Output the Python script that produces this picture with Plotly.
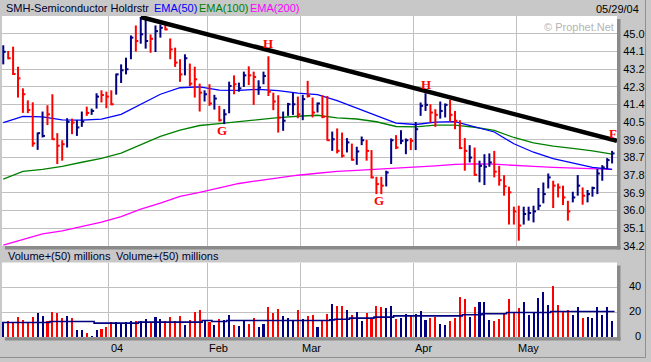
import pandas as pd
import plotly.graph_objects as go

# ---------------- data ----------------
holidays = ["2003-12-25", "2004-01-01", "2004-01-19", "2004-02-16", "2004-04-09"]
dates = [d for d in pd.bdate_range("2003-12-01", "2004-05-28")
         if d.strftime("%Y-%m-%d") not in holidays]

high = [44.41, 44.12, 44.34, 43.32, 42.22, 41.61, 41.51, 39.97, 41.04, 41.36,
        41.92, 39.94, 39.58, 40.70, 40.68, 40.60, 41.04, 41.29, 41.19, 41.97,
        42.12, 42.05, 42.12, 42.97, 43.44, 43.78, 44.91, 45.42, 45.85, 45.73,
        44.96, 45.42, 45.47, 45.47, 44.76, 44.29, 43.70, 43.95, 43.48, 43.32,
        42.46, 42.12, 42.43, 41.89, 41.33, 41.16, 42.56, 42.88, 42.51, 43.07,
        43.34, 43.07, 42.63, 43.07, 43.85, 42.00, 41.87, 41.04, 41.48, 42.00,
        41.80, 41.89, 42.60, 41.75, 41.50, 41.87, 41.83, 40.02, 40.18, 39.97,
        39.69, 39.41, 39.25, 39.77, 39.60, 39.08, 37.72, 37.72, 38.03, 39.67,
        39.84, 40.09, 39.67, 39.69, 40.51, 41.50, 41.97, 41.41, 41.16, 41.55,
        41.45, 41.63, 41.07, 40.60, 39.69, 39.33, 39.21, 38.54, 38.87, 38.91,
        39.04, 38.28, 37.80, 37.22, 36.20, 36.25, 36.20, 36.20, 36.25, 37.15,
        37.43, 37.89, 37.52, 37.38, 37.27, 36.50, 36.96, 37.81, 37.18, 37.05,
        37.22, 38.11, 38.31, 38.67, 39.04]
low = [43.44, 43.70, 42.90, 41.75, 40.97, 40.96, 39.25, 39.09, 39.72, 40.35,
       39.60, 38.37, 38.54, 39.21, 39.89, 39.80, 40.26, 40.82, 40.87, 41.19,
       41.50, 41.21, 41.36, 41.90, 42.49, 42.93, 43.70, 44.09, 44.49, 44.24,
       44.03, 44.07, 44.80, 45.17, 43.70, 43.31, 42.55, 42.88, 42.33, 41.75,
       41.04, 41.55, 41.33, 41.14, 40.53, 40.40, 40.95, 41.92, 42.05, 42.29,
       42.39, 41.38, 41.89, 42.43, 41.83, 41.11, 39.97, 40.06, 40.82, 40.87,
       40.70, 40.60, 41.75, 40.74, 40.99, 40.70, 39.55, 39.04, 38.91, 38.70,
       38.96, 38.54, 38.33, 39.33, 38.54, 37.64, 36.84, 36.84, 37.23, 38.37,
       39.13, 39.38, 38.87, 39.08, 39.08, 40.82, 41.07, 40.48, 40.26, 40.68,
       40.74, 40.53, 40.14, 39.13, 38.03, 38.45, 37.77, 37.44, 37.30, 38.23,
       37.69, 37.27, 36.76, 35.29, 35.29, 34.47, 35.29, 35.49, 35.40, 36.03,
       36.37, 37.13, 36.13, 36.67, 36.28, 35.49, 36.42, 36.76, 36.30, 36.42,
       36.71, 36.84, 37.52, 38.11, 38.40]
close = [44.08, 43.75, 42.95, 42.73, 41.92, 41.12, 39.42, 39.94, 39.80, 40.90,
         39.63, 39.30, 39.38, 40.51, 40.48, 40.23, 40.53, 40.97, 41.07, 41.80,
         41.88, 41.80, 41.41, 42.93, 43.14, 43.19, 44.80, 44.63, 44.97, 44.63,
         44.74, 45.13, 45.30, 45.22, 44.20, 43.53, 42.93, 43.75, 42.46, 42.68,
         42.00, 41.92, 41.45, 41.70, 40.60, 40.90, 42.34, 42.43, 42.22, 42.88,
         42.88, 42.80, 42.26, 42.85, 42.05, 41.55, 40.73, 40.57, 41.41, 41.41,
         40.90, 41.67, 41.83, 40.99, 41.45, 40.77, 39.58, 39.63, 39.04, 38.79,
         39.47, 38.59, 39.01, 39.58, 39.04, 37.69, 37.35, 37.27, 37.94, 39.58,
         39.21, 39.55, 39.58, 39.55, 40.14, 41.33, 41.38, 40.99, 40.87, 41.07,
         41.38, 40.87, 40.57, 39.18, 39.04, 38.70, 37.82, 38.28, 38.23, 38.45,
         37.98, 37.55, 37.24, 36.93, 35.96, 35.24, 35.83, 35.88, 35.96, 36.25,
         36.84, 37.69, 37.27, 37.18, 36.67, 35.96, 36.67, 37.27, 36.76, 36.84,
         37.15, 37.89, 38.20, 38.57, 38.91]
# n = up (navy), r = down (red)
bar_dir = list("nrrrrrrnnr" "rrrnrnnrnn" "rrrnnnnrnn" "rnnrrrrnrr" "rnrnrnnrnn"
               "rrnnrrrnnn" "rnrrnrrnrr" "nrnnrrrrnn" "rnnrnnnrrn" "nrrrrnrnnn"
               "rrrrrrnnnn" "nnrrrrnnrn" "nnnnn")
volume = [11.7, 12.5, 11.7, 16.5, 13.8, 11.2, 16.5, 19.7, 17.3, 12.5,
          20.5, 19.7, 15.7, 17.0, 15.7, 5.8, 5.3, 3.2, 0.8, 5.3,
          6.4, 7.7, 11.7, 11.7, 10.7, 11.7, 13.0, 13.0, 12.5, 14.6,
          12.0, 16.5, 14.9, 12.5, 16.5, 13.0, 17.0, 9.9, 13.8, 20.5,
          21.8, 13.8, 11.7, 9.9, 14.6, 13.8, 17.9, 9.9, 8.5, 13.8,
          10.7, 15.7, 7.7, 10.7, 24.5, 19.7, 22.6, 17.0, 15.2, 12.5,
          21.8, 14.6, 17.0, 17.9, 7.7, 13.8, 18.7, 26.6, 25.0, 25.0,
          21.8, 17.9, 20.3, 13.0, 19.4, 15.2, 25.0, 24.2, 23.2, 25.0,
          14.6, 15.2, 18.7, 17.9, 18.7, 21.0, 13.8, 15.2, 16.5, 10.7,
          9.9, 13.0, 15.2, 32.5, 30.6, 16.5, 24.2, 28.0, 28.0, 13.8,
          12.5, 14.6, 19.2, 30.6, 19.2, 23.7, 28.0, 17.9, 19.2, 31.1,
          35.9, 25.8, 40.8, 25.8, 20.5, 21.8, 17.9, 24.0, 15.2, 16.5,
          15.2, 24.0, 17.9, 24.0, 12.5]
# moving-average lines read every 4th bar
ema_idx = list(range(0, 125, 4))
ema50 = [40.48, 40.79, 40.77, 40.62, 40.60, 40.65, 40.90, 41.41, 41.92, 42.25,
         42.29, 42.13, 42.12, 42.17, 42.10, 41.98, 41.90, 41.60, 41.22, 40.84,
         40.45, 40.38, 40.50, 40.53, 40.26, 40.00, 39.40, 38.97, 38.65, 38.43,
         38.20, 38.10]
ema100 = [37.60, 38.00, 38.10, 38.25, 38.46, 38.66, 38.92, 39.33, 39.78, 40.10,
          40.33, 40.43, 40.53, 40.65, 40.73, 40.80, 40.85, 40.72, 40.66, 40.52,
          40.28, 40.26, 40.35, 40.35, 40.24, 40.08, 39.72, 39.45, 39.28, 39.17,
          39.04, 38.87]
ema200 = [34.25, 34.55, 34.82, 34.97, 35.18, 35.42, 35.70, 36.07, 36.38, 36.72,
          36.93, 37.17, 37.38, 37.53, 37.68, 37.80, 37.90, 38.00, 38.05, 38.10,
          38.15, 38.20, 38.28, 38.35, 38.38, 38.36, 38.32, 38.25, 38.20, 38.16,
          38.12, 38.10]
# volume average (step line): segment start bar and value
vavg_start = [-0.5, 9.5, 18.5, 27.5, 40.5, 42.5, 45.5, 66.5, 67.5, 70.5,
              75.5, 79.5, 93.5, 97.5, 102.5, 111.5, 124.5]
vavg_value = [11.7, 12.5, 11.2, 12.0, 13.3, 12.5, 13.3, 13.8, 14.3, 15.2,
              16.0, 17.0, 17.9, 18.7, 19.7, 20.5, 20.5]
# trend line and pattern letters
trend_idx = [28, 125.0]
trend_price = [45.85, 39.55]
pattern_text = ["H", "G", "H", "G", "F"]
pattern_idx = [53.9, 44.5, 86.1, 76.6, 124.2]
pattern_price = [44.51, 40.07, 42.43, 36.54, 39.94]

price_ticks = ["34.2", "35.1", "36.0", "36.9", "37.8", "38.7", "39.6",
               "40.5", "41.4", "42.3", "43.2", "44.1", "45.0", "45.9"]
vol_ticks = ["0", "20", "40", "60"]
month_labels = ["04", "Feb", "Mar", "Apr", "May"]

# ---------------- layout helpers ----------------
W, H = 651, 362
LM, RM, TM, BM = 2, 34, 16, 25
PW, PH = W - LM - RM, H - TM - BM


def px(x):
    return (x - LM) / PW


def py(y):
    return (H - BM - y) / PH


RED, NAVY = "#ff0000", "#000080"
GRID = "#c0c0c0"
BG = "#c8c8c8"
FONT = "Liberation Sans"

n = len(close)
idx = list(range(n))
month_start = [i for i in range(1, n) if dates[i].month != dates[i - 1].month]
grid_x = [i - 0.5 for i in month_start]

fig = go.Figure()


def bars(code, color):
    xs, ys = [], []
    for i in idx:
        if bar_dir[i] != code:
            continue
        xs += [i, i, None, i, i + 0.5, None]
        ys += [low[i], high[i], None, close[i], close[i], None]
    fig.add_trace(go.Scatter(x=xs, y=ys, mode="lines",
                             line=dict(color=color, width=2),
                             hoverinfo="skip", showlegend=False))


fig.add_trace(go.Scatter(x=ema_idx, y=ema200, mode="lines",
                         line=dict(color="#ff00ff", width=1.3), showlegend=False))
fig.add_trace(go.Scatter(x=ema_idx, y=ema100, mode="lines",
                         line=dict(color="#008000", width=1.3), showlegend=False))
fig.add_trace(go.Scatter(x=ema_idx, y=ema50, mode="lines",
                         line=dict(color="#0000ff", width=1.3), showlegend=False))
bars("r", RED)
bars("n", NAVY)
fig.add_trace(go.Scatter(x=trend_idx, y=trend_price, mode="lines",
                         line=dict(color="#000000", width=4.5), showlegend=False))

vcolors = [RED if d == "r" else NAVY for d in bar_dir]
fig.add_trace(go.Bar(x=idx, y=volume, marker=dict(color=vcolors, line_width=0),
                     width=0.42, xaxis="x2", yaxis="y2", showlegend=False))
fig.add_trace(go.Scatter(x=vavg_start, y=vavg_value, mode="lines",
                         line=dict(color=NAVY, width=1.6, shape="hv"),
                         xaxis="x2", yaxis="y2", showlegend=False))

xr = [-0.26, 125.0]
fig.update_layout(
    width=W, height=H,
    margin=dict(l=LM, r=RM, t=TM, b=BM, pad=0),
    paper_bgcolor=BG, plot_bgcolor="#ffffff",
    showlegend=False, bargap=0,
    xaxis=dict(domain=[0, 1], range=xr, tickvals=grid_x, showticklabels=False,
               showgrid=True, gridcolor=GRID, gridwidth=1, zeroline=False,
               showline=False, ticks="", anchor="y"),
    yaxis=dict(domain=[py(246), 1], range=[34.2, 45.9], side="right",
               tickvals=[float(t) for t in price_ticks],
               ticktext=price_ticks[:-1] + [""],
               showgrid=True, gridcolor=GRID, gridwidth=1, zeroline=False,
               ticks="outside", ticklen=3, tickcolor="rgba(0,0,0,0)",
               tickfont=dict(family=FONT, size=11, color="#000000"),
               anchor="x"),
    xaxis2=dict(domain=[0, 1], range=xr, tickvals=grid_x, showticklabels=False,
                showgrid=True, gridcolor=GRID, gridwidth=1, zeroline=False,
                showline=False, ticks="", anchor="y2", matches="x"),
    yaxis2=dict(domain=[0, py(262.5)], range=[0, 60],
                tickvals=[float(t) for t in vol_ticks], showticklabels=False,
                showgrid=True, gridcolor=GRID, gridwidth=1, zeroline=False,
                ticks="", side="right", anchor="x2"),
)

ann = []
# title band
ann.append(dict(text="SMH-Semiconductor Holdrstr", x=px(4), y=py(8.5), xanchor="left",
                font=dict(family=FONT, size=11, color="#000030")))
ann.append(dict(text="EMA(50)", x=px(152), y=py(8.5), xanchor="left",
                font=dict(family=FONT, size=11, color="#0000ff")))
ann.append(dict(text="EMA(100)", x=px(197), y=py(8.5), xanchor="left",
                font=dict(family=FONT, size=11, color="#008000")))
ann.append(dict(text="EMA(200)", x=px(248), y=py(8.5), xanchor="left",
                font=dict(family=FONT, size=11, color="#ff00ff")))
ann.append(dict(text="05/29/04", x=px(641), y=py(9), xanchor="right",
                font=dict(family=FONT, size=11, color="#000000")))
ann.append(dict(text="© Prophet.Net", x=px(616), y=py(27), xanchor="right",
                font=dict(family=FONT, size=11, color="#b4b4b4")))
# volume title band
ann.append(dict(text="Volume+(50) millions", x=px(6), y=py(255.5), xanchor="left",
                font=dict(family=FONT, size=11, color="#000030")))
ann.append(dict(text="Volume+(50) millions", x=px(114), y=py(255.5), xanchor="left",
                font=dict(family=FONT, size=11, color="#000030")))
# volume axis labels
for t in vol_ticks[:-1]:
    yv = float(t)
    ann.append(dict(text=t, x=px(643), xanchor="right", yref="y2", y=yv + 0.8,
                    font=dict(family=FONT, size=11, color="#000000")))
# month labels
for gx, lab in zip(grid_x, month_labels):
    ann.append(dict(text=lab, xref="x", x=gx, xanchor="left", y=py(348),
                    font=dict(family=FONT, size=11, color="#000000")))
for a in ann:
    a.setdefault("xref", "paper")
    a.setdefault("yref", "paper")
    a["showarrow"] = False
    a.setdefault("yanchor", "middle")
# pattern letters
for t, xi, yp in zip(pattern_text, pattern_idx, pattern_price):
    ann.append(dict(text="<b>%s</b>" % t, xref="x", yref="y", x=xi, y=yp,
                    showarrow=False,
                    font=dict(family="Liberation Serif", size=13, color="#ff0000")))
fig.update_layout(annotations=ann)

# shadows and frame
SH = "#8a8a8a"
shapes = [
    dict(x0=px(617), x1=px(620.5), y0=py(249.5), y1=py(19)),
    dict(x0=px(5), x1=px(620.5), y0=py(249.5), y1=py(246)),
    dict(x0=px(617), x1=px(620.5), y0=py(340.5), y1=py(265.5)),
    dict(x0=px(5), x1=px(620.5), y0=py(340.5), y1=py(337.3)),
]
for s in shapes:
    s.update(type="rect", xref="paper", yref="paper", fillcolor=SH, line_width=0,
             layer="above")
shapes.append(dict(type="line", xref="paper", yref="paper", x0=px(645.5), x1=px(645.5),
                   y0=py(0), y1=py(357.5), line=dict(color="#909090", width=1)))
shapes.append(dict(type="line", xref="paper", yref="paper", x0=px(0), x1=px(645.5),
                   y0=py(357.5), y1=py(357.5), line=dict(color="#909090", width=1)))
fig.update_layout(shapes=shapes)

fig.write_html("out.html",
               config={"displayModeBar": False, "staticPlot": True},
               post_script="document.body.style.margin='0';"
                           "document.body.style.overflow='hidden';")
